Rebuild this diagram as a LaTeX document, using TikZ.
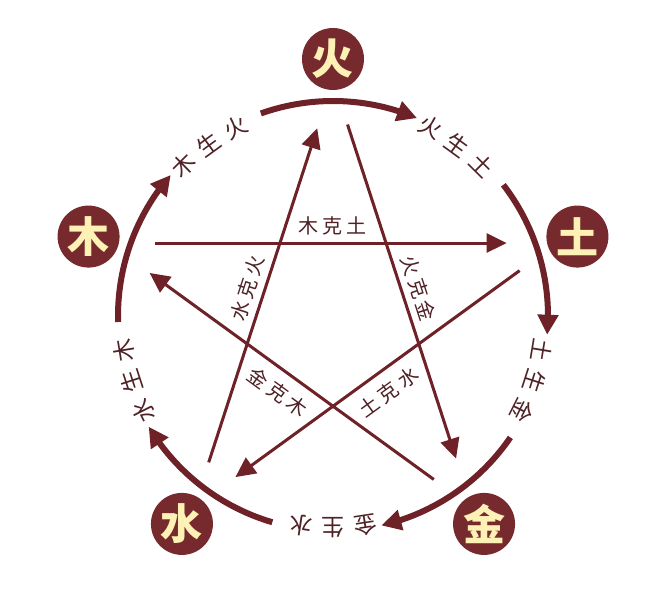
\documentclass[tikz,border=0pt]{standalone}
\usepackage{fontspec}
\newfontfamily\cjk{Noto Sans CJK SC}
\usetikzlibrary{arrows.meta,bending,calc}
\definecolor{maroon}{HTML}{6E2127}
\definecolor{elemfill}{HTML}{762A2E}
\definecolor{cream}{HTML}{FDF1B6}
\definecolor{labelcol}{HTML}{4E2226}
\newcommand{\kesp}{\hspace{4pt}}
\begin{document}
\begin{tikzpicture}[x=1pt,y=1pt,
  elem/.style={circle,fill=elemfill,minimum size=62pt,inner sep=0pt,
    text=cream,font=\cjk\bfseries\fontsize{42}{42}\selectfont},
  kearrow/.style={draw=maroon,line width=3pt,shorten <=47pt,shorten >=51pt,
    -{Triangle[length=20pt,width=19pt]}},
  shengarc/.style={draw=maroon,line width=6pt,-{Triangle[length=20pt,width=20pt]}},
  kelabel/.style={text=labelcol,font=\cjk\fontsize{20}{20}\selectfont,inner sep=0pt},
  shenglabel/.style={text=labelcol,font=\cjk\fontsize{23}{23}\selectfont,inner sep=0pt}]
\useasboundingbox[fill=white] (-333,-283) rectangle (334,316);
% element nodes
\node[elem] (huo) at (90:257) {火};
\node[elem] (tu) at (18:257) {土};
\node[elem] (jin) at (-54:257) {金};
\node[elem] (shui) at (-126:257) {水};
\node[elem] (mu) at (162:257) {木};
% pentagram vertices
\coordinate (vhuo) at (90:236.2);
\coordinate (vtu) at (18:236.2);
\coordinate (vjin) at (-54:236.2);
\coordinate (vshui) at (-126:236.2);
\coordinate (vmu) at (162:236.2);
% ke (controlling) lines
\draw[kearrow] (vmu) -- (vtu);
\draw[kearrow] (vhuo) -- (vjin);
\draw[kearrow] (vtu) -- (vshui);
\draw[kearrow] (vjin) -- (vmu);
\draw[kearrow] (vshui) -- (vhuo);
\node[kelabel,rotate=0] (k1) at (90:90) {木\kesp 克\kesp 土};
\node[kelabel,rotate=-72] (k2) at (18:90) {火\kesp 克\kesp 金};
\node[kelabel,rotate=36] (k3) at (-54:94) {土\kesp 克\kesp 水};
\node[kelabel,rotate=-36] (k4) at (-126:94) {金\kesp 克\kesp 木};
\node[kelabel,rotate=72] (k5) at (162:90) {水\kesp 克\kesp 火};
% sheng (generating) arcs
\foreach \k in {0,...,4}{
  \pgfmathsetmacro{\sa}{109.6-72*\k}
  \pgfmathsetmacro{\ea}{67-72*\k}
  \draw[shengarc] (\sa:215) arc[start angle=\sa,end angle=\ea,radius=215];
}
% sheng labels
\foreach \k/\a/\b/\c in {0/火/生/土,1/土/生/金,2/金/生/水,3/水/生/木,4/木/生/火}{
  \pgfmathsetmacro{\cc}{54-72*\k}
  \pgfmathsetmacro{\ca}{\cc+8.7}
  \pgfmathsetmacro{\cb}{\cc-8.7}
  \node[shenglabel,rotate=\ca-90] (s\k a) at (\ca:212) {\a};
  \node[shenglabel,rotate=\cc-90] (s\k b) at (\cc:212) {\b};
  \node[shenglabel,rotate=\cb-90] (s\k c) at (\cb:212) {\c};
}
\end{tikzpicture}
\end{document}
